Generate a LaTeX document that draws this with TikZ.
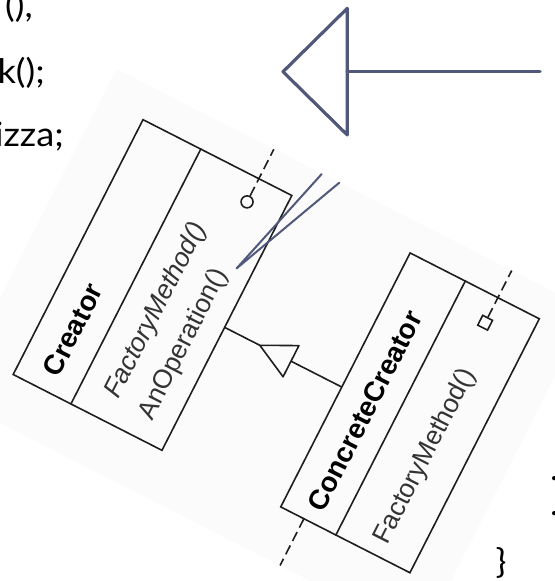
\documentclass[tikz,border=0pt]{standalone}
\usepackage{fontspec}
\setmainfont{Liberation Sans}
\newfontfamily\slidefont[FakeStretch=1.07]{Lato}
\usetikzlibrary{calc}
\definecolor{slate}{RGB}{80,89,122}
\definecolor{bgpic}{RGB}{251,251,251}
\definecolor{umlblack}{RGB}{30,30,30}
\tikzset{
  slidetext/.style={font=\slidefont\fontsize{34}{34}\selectfont, inner sep=0pt, text=black},
  arrowline/.style={draw=slate, line width=3.2bp, line join=round, line cap=round},
  noteline/.style={draw=slate, line width=2bp, line cap=round},
  classbox/.style={draw=umlblack, line width=1.6bp, rectangle, inner sep=0pt, transform shape},
  umlline/.style={draw=umlblack, line width=1.6bp, line join=round},
  classname/.style={font=\bfseries\fontsize{28}{28}\selectfont, anchor=base west, inner sep=0pt, transform shape, text=black},
  opname/.style={font=\fontsize{26.5}{26.5}\selectfont, text=black!80, anchor=base west, inner sep=0pt, transform shape},
  dashline/.style={draw=umlblack, line width=1.6bp, dash pattern=on 10bp off 5bp},
}
\begin{document}
\begin{tikzpicture}[x=1bp,y=1bp]
\useasboundingbox (0,0) rectangle (555,-581);
\clip (0,0) rectangle (555,-581);
\fill[white] (0,0) rectangle (555,-581);

% rotated UML picture
\begin{scope}[shift={(152.5,-285)}, rotate=63]
  \fill[bgpic] (-192,-400) rectangle (176,130);
  % Creator
  \node[classbox, minimum width=286bp, minimum height=167bp] (creator) at (0,0) {};
  \draw[umlline] ($(creator.north west)!65/167!(creator.south west)$) -- ($(creator.north east)!65/167!(creator.south east)$);
  \node[classname] (creatorname) at (-126,41) {Creator};
  \node[opname, font=\itshape\fontsize{26.5}{26.5}\selectfont] (fm1) at (-118,-21.8) {FactoryMethod()};
  \node[opname] (anop) at (-122,-61.8) {AnOperation()};
  % ConcreteCreator
  \node[classbox, minimum width=285bp, minimum height=145bp] (cc) at (3,-287.5) {};
  \draw[umlline] ($(cc.north west)!62/145!(cc.south west)$) -- ($(cc.north east)!62/145!(cc.south east)$);
  \node[classname] (ccname) at (-126,-256) {ConcreteCreator};
  \node[opname] (fm2) at (-126,-327.8) {FactoryMethod()};
  % inheritance
  \coordinate (inhA) at (-5,-83.5);
  \coordinate (inhApex) at (-5,-123);
  \coordinate (inhB1) at (-22.5,-158);
  \coordinate (inhB2) at (12.5,-158);
  \coordinate (inhBase) at (-5,-158);
  \coordinate (inhC) at (-5,-215);
  \draw[umlline] (inhA) -- (inhApex);
  \draw[umlline] (inhApex) -- (inhB1) -- (inhB2) -- cycle;
  \draw[umlline] (inhBase) -- (inhC);
  % note connectors
  \node[circle, draw=umlblack, line width=1.6bp, minimum size=12bp, inner sep=0pt] (noteA) at (117,-46.5) {};
  \coordinate (noteAend) at (176,-46.5);
  \draw[dashline] (noteA) -- (noteAend);
  \node[rectangle, draw=umlblack, line width=1.6bp, minimum size=11bp, inner sep=0pt, transform shape] (noteB) at (117.4,-313.5) {};
  \coordinate (noteBend) at (176,-313.5);
  \draw[dashline] (noteB) -- (noteBend);
  % dependency to the left of ConcreteCreator
  \coordinate (depA) at (-139.5,-241);
  \coordinate (depB) at (-192,-241);
  \draw[dashline] (depA) -- (depB);
\end{scope}

% blue annotation lines
\coordinate (vA) at (236.7,-268.3);
\coordinate (vB) at (321.7,-174);
\coordinate (vC) at (339.3,-182.7);
\draw[noteline] (vA) -- (vB);
\draw[noteline] (vA) -- (vC);

% blue inheritance arrow
\coordinate (arrTip) at (283,-71.7);
\coordinate (arrTop) at (347.3,-8.3);
\coordinate (arrBot) at (347.3,-135);
\coordinate (arrMid) at (347.3,-71.7);
\coordinate (arrEnd) at (540,-71.7);
\draw[arrowline] (arrTop) -- (arrTip) -- (arrBot) -- cycle;
\draw[arrowline] (arrMid) -- (arrEnd);

% slide text (cut by the frame)
\node[slidetext, anchor=base east] (t1) at (33,-18) {(),};
\node[slidetext, anchor=base east] (t2) at (45,-84) {k();};
\node[slidetext, anchor=base east] (t3) at (64,-147) {izza;};
\node[slidetext, anchor=base west] (t4) at (550,-480) {.};
\node[slidetext, anchor=base west] (t5) at (550,-515) {.};
\node[slidetext, anchor=base] (t6) at (501,-573) {\}};
\end{tikzpicture}
\end{document}
